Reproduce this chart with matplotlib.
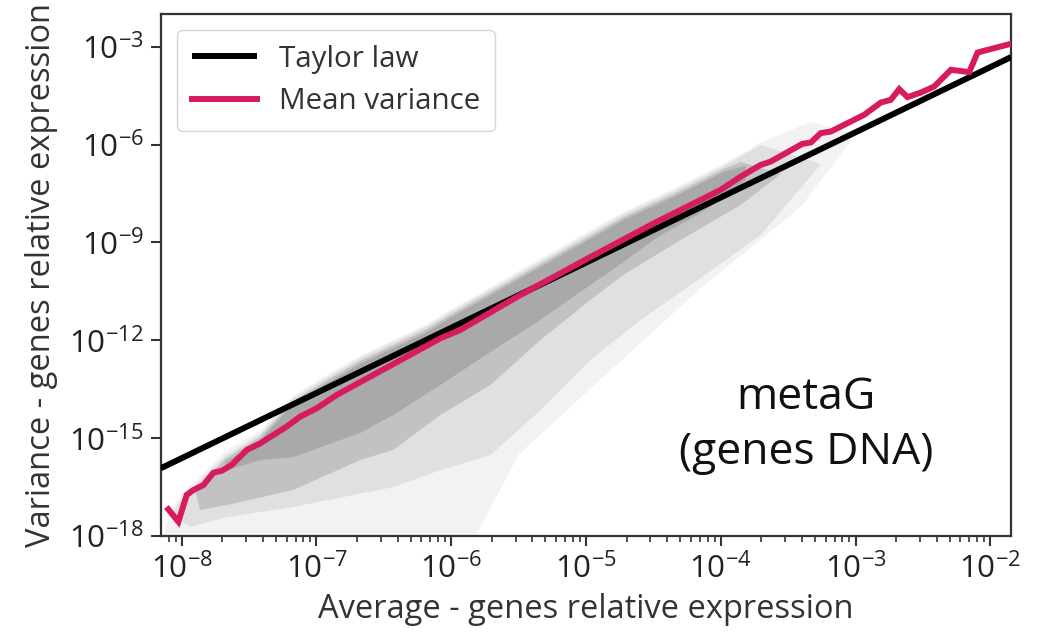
import numpy as np
import matplotlib
matplotlib.use("Agg")
import matplotlib.pyplot as plt

FONT = 'Open Sans'
plt.rcParams['font.family'] = [FONT, 'DejaVu Sans']
plt.rcParams['mathtext.fontset'] = 'custom'
plt.rcParams['mathtext.rm'] = FONT
plt.rcParams['mathtext.it'] = FONT + ':italic'
plt.rcParams['mathtext.bf'] = FONT + ':bold'

# ---- data (log10 values) ----
taylor_logx = [-8.154, -1.846]
taylor_logy = [-15.92, -3.316]

meanvar_logx = [-8.100, -8.025, -7.963, -7.914, -7.840, -7.765, -7.703, -7.629,
                -7.517, -7.418, -7.319, -7.220, -7.121, -6.997, -6.848, -6.081,
                -5.932, -5.5, -5.0, -4.5, -4.001, -3.852, -3.703, -3.629, -3.394,
                -3.332, -3.258, -3.183, -3.059, -2.936, -2.812, -2.738, -2.676,
                -2.614, -2.515, -2.416, -2.292, -2.156, -2.094, -1.830]
meanvar_logy = [-17.18, -17.56, -16.74, -16.59, -16.44, -16.06, -16.00, -15.82,
                -15.36, -15.16, -14.90, -14.64, -14.34, -14.08, -13.67, -11.94,
                -11.68, -10.64, -9.52, -8.42, -7.387, -6.98, -6.620, -6.518, -5.975,
                -5.935, -5.647, -5.598, -5.340, -5.086, -4.709, -4.626, -4.298,
                -4.543, -4.402, -4.218, -3.706, -3.776, -3.175, -2.89]

# scatter-cloud density envelopes (log10 x, log10 y)
faint_logx = [-8.124, -8.087, -7.975, -7.678, -7.418, -7.173, -6.920, -6.675, -6.178,
              -6.007, -5.338, -4.721, -4.349, -3.976, -3.703, -3.330, -3.000,
              -3.405, -4.149, -4.893, -5.500, -5.858, -8.124]
faint_logy = [-17.80, -17.20, -16.60, -15.42, -14.78, -13.70, -13.06, -12.47, -11.50,
              -11.07, -9.50, -8.06, -7.35, -6.58, -5.94, -5.30, -5.70,
              -7.90, -10.40, -13.20, -15.50, -18.30, -18.30]

light_logx = [-8.087, -7.975, -7.678, -7.418, -7.173, -6.920, -6.675, -6.178, -6.007,
              -5.338, -4.721, -4.349, -3.976, -3.703, -3.256, -3.703,
              -4.149, -4.594, -4.967, -5.338, -5.710, -6.081, -6.430, -7.173, -7.663,
              -7.938]
light_logy = [-17.36, -16.74, -15.55, -14.87, -13.77, -13.13, -12.54, -11.56, -11.13,
              -9.57, -8.13, -7.42, -6.65, -6.01, -6.60, -8.77,
              -10.09, -11.37, -12.60, -14.14, -15.52, -15.98, -16.50, -17.11, -17.42,
              -17.72]

medium_logx = [-7.901, -7.678, -7.418, -7.173, -6.920, -6.675, -6.178, -6.007, -5.338,
               -4.721, -4.349, -3.976, -3.852, -3.554, -3.852, -4.297, -4.721,
               -4.967, -5.338, -5.710, -6.081, -6.430, -6.675, -7.173, -7.663, -7.864]
medium_logy = [-16.59, -15.64, -14.96, -13.86, -13.22, -12.63, -11.65, -11.22, -9.66,
               -8.22, -7.51, -6.74, -6.53, -6.90, -7.85, -8.92, -9.99,
               -10.76, -11.99, -13.37, -14.29, -15.36, -15.67, -16.59, -17.05, -17.20]

dense_logx = [-7.678, -7.418, -7.173, -6.920, -6.675, -6.178, -6.007, -5.338, -4.721,
              -4.349, -3.976, -3.815, -3.815, -3.976, -4.171, -4.468, -4.721, -4.967,
              -5.338, -5.710, -6.081, -6.430, -6.675, -7.173, -7.418, -7.663]
dense_logy = [-15.73, -15.06, -13.95, -13.31, -12.72, -11.74, -11.31, -9.75, -8.31,
              -7.60, -6.83, -6.65, -7.08, -7.63, -8.15, -8.83, -9.60, -10.30,
              -11.37, -12.36, -13.37, -14.29, -14.84, -15.58, -15.67, -15.98]

x_ticks = [1e-8, 1e-7, 1e-6, 1e-5, 1e-4, 1e-3, 1e-2]
y_ticks = [1e-18, 1e-15, 1e-12, 1e-9, 1e-6, 1e-3]

label_taylor = "Taylor law"
label_meanvar = "Mean variance"
xlabel = "Average - genes relative expression"
ylabel = "Variance - genes relative expression"
annot = "metaG\n(genes DNA)"

# ---- figure ----
fig = plt.figure(figsize=(10.38, 6.35), dpi=100)
ax = fig.add_axes([0.1551, 0.1559, 0.974 - 0.1551, 0.9787 - 0.1559])
ax.set_xscale('log')
ax.set_yscale('log')


def p10(v):
    return 10.0 ** np.asarray(v)


ax.fill(p10(faint_logx), p10(faint_logy), color='#f2f2f2', lw=0, zorder=1)
ax.fill(p10(light_logx), p10(light_logy), color='#e0e0e0', lw=0, zorder=2)
ax.fill(p10(medium_logx), p10(medium_logy), color='#c2c2c2', lw=0, zorder=3)
ax.fill(p10(dense_logx), p10(dense_logy), color='#a9a9a9', lw=0, zorder=4)

ax.plot(p10(taylor_logx), p10(taylor_logy), color='black', lw=4.3,
        solid_capstyle='butt', label=label_taylor, zorder=5)
ax.plot(p10(meanvar_logx), p10(meanvar_logy), color='#d81b60', lw=4.3,
        solid_joinstyle='miter', label=label_meanvar, zorder=6)

ax.set_xlim(10 ** -8.154, 10 ** -1.846)
ax.set_ylim(1e-18, 10 ** -1.98)

ax.set_xticks(x_ticks)
ax.set_yticks(y_ticks)
ax.yaxis.set_minor_locator(matplotlib.ticker.NullLocator())
ax.xaxis.set_minor_locator(matplotlib.ticker.LogLocator(base=10, subs=np.arange(2, 10), numticks=20))
ax.xaxis.set_minor_formatter(matplotlib.ticker.NullFormatter())

for s in ax.spines.values():
    s.set_linewidth(1.6)
    s.set_color('#333333')
ax.tick_params(axis='both', which='major', direction='out', length=7.5, width=1.5,
               color='#333333', labelsize=22.5, labelcolor='#222222', pad=5)
ax.tick_params(axis='x', which='minor', direction='out', length=4.5, width=1.2, color='#333333')

ax.set_xlabel(xlabel, fontsize=23.5, color='#333333', labelpad=5)
ax.set_ylabel(ylabel, fontsize=23.5, color='#333333', labelpad=8)

ax.text(0.759, 0.212, annot, transform=ax.transAxes, ha='center', va='center',
        fontsize=32, color='#111111', linespacing=1.3)

leg = ax.legend(loc='upper left', fontsize=21.3, handlelength=2.2, handletextpad=0.75,
                labelspacing=0.45, borderpad=0.5, frameon=True, fancybox=True,
                framealpha=1.0, edgecolor='#d5d5d5', bbox_to_anchor=(0.0, 1.0),
                borderaxespad=0.55)
for t in leg.get_texts():
    t.set_color('#333333')

fig.savefig('out.png', dpi=100)
